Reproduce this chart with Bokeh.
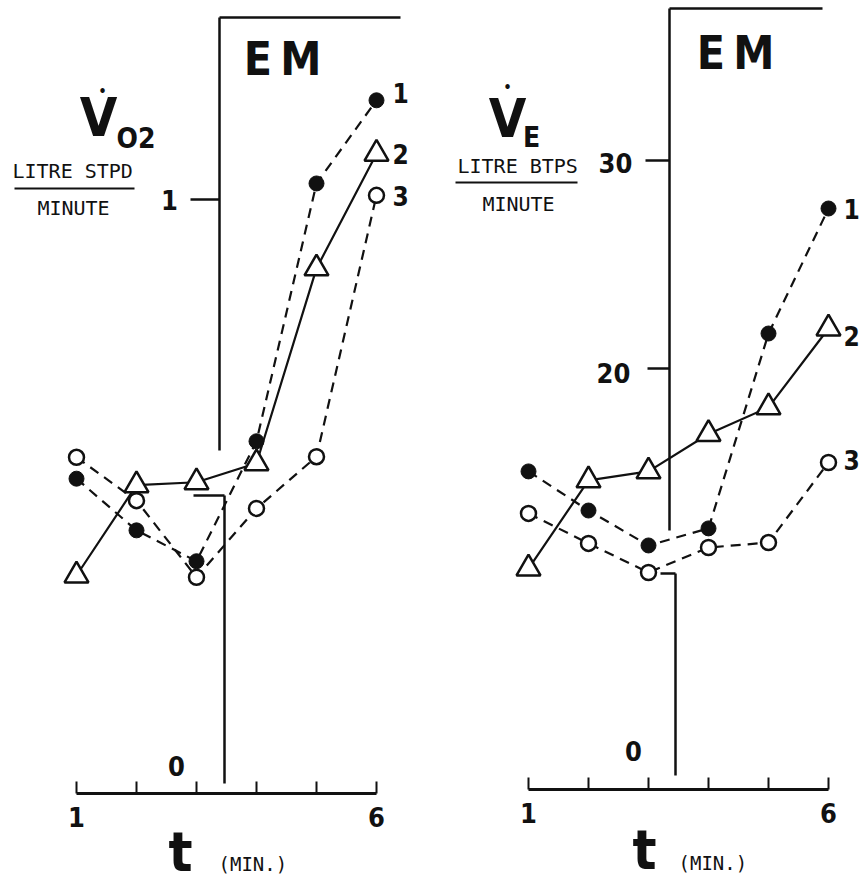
from bokeh.plotting import figure
from bokeh.layouts import row
from bokeh.models import Range1d, FixedTicker, Label
from bokeh.embed import file_html
from bokeh.resources import INLINE

# ---- data -------------------------------------------------------------
minutes = [1, 2, 3, 4, 5, 6]

# oxygen uptake, litre STPD / minute
vo2_subject1 = [0.530, 0.443, 0.391, 0.593, 1.027, 1.167]
vo2_subject2 = [0.367, 0.519, 0.524, 0.556, 0.884, 1.077]
vo2_subject3 = [0.566, 0.493, 0.364, 0.480, 0.567, 1.007]

# ventilation, litre BTPS / minute
ve_subject1 = [15.05, 13.17, 11.49, 12.31, 21.68, 27.69]
ve_subject2 = [10.38, 14.62, 15.05, 16.85, 18.13, 21.92]
ve_subject3 = [13.03, 11.59, 10.19, 11.39, 11.63, 15.48]

subject_labels = ["1", "2", "3"]
x_tick_labels = {1: "1", 6: "6"}

COND = "DejaVu Sans Condensed, Roboto, sans-serif"
MONO = "DejaVu Sans Mono"
INK = "#111111"


def make_panel(width, height, x_range, y_range, axis_at):
    p = figure(width=width, height=height, x_range=x_range, y_range=y_range,
               output_backend="svg", toolbar_location=None,
               y_axis_location=None, min_border_left=0, min_border_right=0,
               min_border_top=0, min_border_bottom=0)
    p.grid.visible = False
    p.outline_line_color = None
    p.background_fill_color = "white"
    p.border_fill_color = "white"
    ax = p.xaxis[0]
    ax.fixed_location = axis_at
    ax.bounds = (1, 6)
    ax.ticker = FixedTicker(ticks=minutes)
    ax.major_label_overrides = {m: x_tick_labels.get(m, "") for m in minutes}
    ax.major_tick_in = 12
    ax.major_tick_out = 0
    ax.minor_tick_line_color = None
    ax.axis_line_width = 3
    ax.axis_line_color = INK
    ax.major_tick_line_width = 2
    ax.major_tick_line_color = INK
    ax.major_label_text_font = COND
    ax.major_label_text_font_style = "bold"
    ax.major_label_text_font_size = "27px"
    ax.major_label_text_color = INK
    ax.major_label_standoff = 13
    return p


def add_series(p, ys, kind, dash, size):
    if dash:
        p.line(minutes, ys, line_color=INK, line_width=2.2, line_dash="10 7")
    else:
        p.line(minutes, ys, line_color=INK, line_width=2.2)
    if kind == "filled":
        p.scatter(minutes, ys, marker="circle", size=size, fill_color=INK,
                  line_color=INK, line_width=1)
    elif kind == "open":
        p.scatter(minutes, ys, marker="circle", size=size, fill_color="white",
                  line_color=INK, line_width=2.5)
    else:
        p.scatter(minutes, ys, marker="triangle", size=size, fill_color="white",
                  line_color=INK, line_width=2.5)


def label(p, x, y, text, font, size, bold=True, align="center"):
    p.add_layout(Label(x=x, y=y, text=text, text_font=font,
                       text_font_size=f"{size}px",
                       text_font_style="bold" if bold else "normal",
                       text_align=align, text_baseline="middle",
                       text_color=INK))


# ---- left panel: oxygen uptake -----------------------------------------
LW, LH = 430, 884
lx0 = 1 - 76 / 60


def lx(px):
    return lx0 + px / 60


def ly(py):
    return (793 - py) / 594


left = make_panel(LW, LH, Range1d(lx(0), lx(LW)), Range1d(ly(LH), ly(0)), ly(793))

# y axis with its break, frame top and tick
left.segment(x0=[lx(219), lx(219), lx(193), lx(224), lx(190)],
             y0=[ly(17), ly(17), ly(495), ly(495), ly(199)],
             x1=[lx(400), lx(219), lx(224), lx(224), lx(219)],
             y1=[ly(17), ly(450), ly(495), ly(783), ly(199)],
             line_color=INK, line_width=2.5)
# unit fraction bar
left.segment(x0=[lx(14)], y0=[ly(188)], x1=[lx(134)], y1=[ly(188)],
             line_color=INK, line_width=2)

add_series(left, vo2_subject1, "filled", True, 15)
add_series(left, vo2_subject3, "open", True, 15)
add_series(left, vo2_subject2, "triangle", False, 24)

label(left, lx(282), ly(58), "E\u2009M", COND, 46)
label(left, lx(98), ly(117), "V", COND, 54)
label(left, lx(102), ly(90), "\u2022", COND, 14)
label(left, lx(116), ly(138), "O2", COND, 28, align="left")
label(left, lx(12), ly(170), "LITRE STPD", MONO, 20, bold=False, align="left")
label(left, lx(73), ly(207), "MINUTE", MONO, 20, bold=False)
label(left, lx(169), ly(199), "1", COND, 27)
label(left, lx(176), ly(765), "0", COND, 27)
label(left, lx(180), ly(851), "t", COND, 56)
label(left, lx(218), ly(863), "(MIN.)", MONO, 19, bold=False, align="left")
for txt, py in zip(subject_labels, [92, 153, 195]):
    label(left, lx(392), ly(py), txt, COND, 26, align="left")

# ---- right panel: ventilation ------------------------------------------
RW, RH = 429, 884
rx0 = 1 - 98 / 60


def rx(px):
    return rx0 + (px - 430) / 60


def ry(py):
    return 37.69 - py / 20.8


right = make_panel(RW, RH, Range1d(rx(430), rx(430 + RW)), Range1d(ry(RH), ry(0)), ry(789))

right.segment(x0=[rx(669), rx(669), rx(660), rx(675), rx(645), rx(647)],
              y0=[ry(8), ry(8), ry(573), ry(573), ry(160), ry(368)],
              x1=[rx(822), rx(669), rx(675), rx(675), rx(669), rx(669)],
              y1=[ry(8), ry(530), ry(573), ry(775), ry(160), ry(368)],
              line_color=INK, line_width=2.5)
right.segment(x0=[rx(455)], y0=[ry(182)], x1=[rx(577)], y1=[ry(182)],
              line_color=INK, line_width=2)

add_series(right, ve_subject1, "filled", True, 15)
add_series(right, ve_subject3, "open", True, 15)
add_series(right, ve_subject2, "triangle", False, 24)

label(right, rx(735), ry(52), "E\u2009M", COND, 46)
label(right, rx(507), ry(118), "V", COND, 54)
label(right, rx(507), ry(86), "\u2022", COND, 14)
label(right, rx(531), ry(137), "E", COND, 28)
label(right, rx(457), ry(165), "LITRE BTPS", MONO, 20, bold=False, align="left")
label(right, rx(518), ry(203), "MINUTE", MONO, 20, bold=False)
label(right, rx(615), ry(162), "30", COND, 27)
label(right, rx(613), ry(372), "20", COND, 27)
label(right, rx(633), ry(750), "0", COND, 27)
label(right, rx(644), ry(849), "t", COND, 56)
label(right, rx(678), ry(862), "(MIN.)", MONO, 19, bold=False, align="left")
for txt, py in zip(subject_labels, [208, 335, 459]):
    label(right, rx(843), ry(py), txt, COND, 26, align="left")

layout = row(left, right)
open("out.html", "w").write(file_html(layout, INLINE))
